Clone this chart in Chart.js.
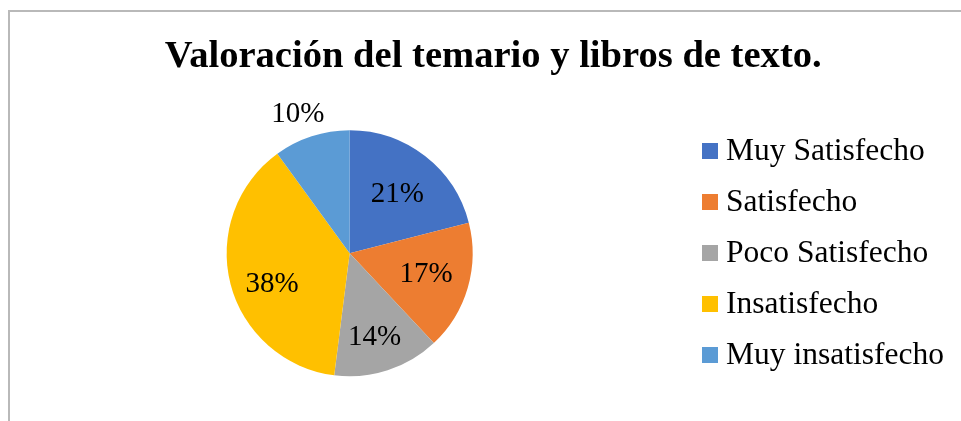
<!DOCTYPE html>
<html>
<head>
<meta charset="utf-8">
<script src="https://cdn.jsdelivr.net/npm/chart.js@4/dist/chart.umd.min.js"></script>
<style>
    html, body { margin: 0; padding: 0; background: #fff; overflow: hidden; }
    #frame {
        position: absolute; left: 8px; top: 10px; width: 1000px; height: 440px;
        border-left: 2px solid #b9b9b9; border-top: 2px solid #b9b9b9;
    }
    #chart { position: absolute; left: 0; top: 0; }
</style>
</head>
<body>
<div id="frame"></div>
<canvas id="chart" width="990" height="421"></canvas>
<script>
// Data
const TITLE = 'Valoración del temario y libros de texto.';
const categories = ['Muy Satisfecho', 'Satisfecho', 'Poco Satisfecho', 'Insatisfecho', 'Muy insatisfecho'];
const percentages = [21, 17, 14, 38, 10];
const colors = ['#4472C4', '#ED7D31', '#A5A5A5', '#FFC000', '#5B9BD5'];

const FONT = '"Liberation Serif", "Times New Roman", serif';

// Label placement (fraction of radius, angle nudge in degrees)
const labelRadius = [0.625, 0.644, 0.705, 0.676, 1.214];
const labelNudge = [0.5, -1.3, 1.3, -6.6, -2.3];

// Small square swatch used as the legend marker
function swatch(color) {
    const c = document.createElement('canvas');
    c.width = 16;
    c.height = 16;
    const g = c.getContext('2d');
    g.fillStyle = color;
    g.fillRect(0, 0, 16, 16);
    return c;
}

// Percentage labels on the slices
const sliceLabels = {
    id: 'sliceLabels',
    afterDatasetsDraw(chart) {
        const ctx = chart.ctx;
        const meta = chart.getDatasetMeta(0);
        ctx.save();
        ctx.font = '29px ' + FONT;
        ctx.fillStyle = '#000';
        ctx.textAlign = 'center';
        ctx.textBaseline = 'middle';
        meta.data.forEach((arc, i) => {
            const p = arc.getProps(['x', 'y', 'startAngle', 'endAngle', 'outerRadius'], true);
            const mid = (p.startAngle + p.endAngle) / 2 + labelNudge[i] * Math.PI / 180;
            const r = p.outerRadius * labelRadius[i];
            ctx.fillText(percentages[i] + '%', p.x + Math.cos(mid) * r, p.y + Math.sin(mid) * r + 1);
        });
        ctx.restore();
    }
};

function init() {
    const ctx = document.getElementById('chart').getContext('2d');
    new Chart(ctx, {
        type: 'pie',
        data: {
            labels: categories,
            datasets: [{
                data: percentages,
                backgroundColor: colors,
                borderWidth: 0
            }]
        },
        options: {
            responsive: false,
            animation: false,
            devicePixelRatio: 1,
            radius: 123,
            layout: {
                padding: { left: 9, right: 12.5, top: 0, bottom: 1 }
            },
            plugins: {
                title: {
                    display: true,
                    text: TITLE,
                    color: '#000',
                    font: { family: FONT, size: 38.6, weight: 'bold' },
                    padding: { top: 34, bottom: 6.3 }
                },
                legend: {
                    position: 'right',
                    fullSize: false,
                    labels: {
                        usePointStyle: true,
                        pointStyleWidth: 0.5,
                        padding: 19.5,
                        color: '#000',
                        font: { family: FONT, size: 31.5 },
                        generateLabels(chart) {
                            const items = Chart.overrides.pie.plugins.legend.labels.generateLabels(chart);
                            items.forEach(item => {
                                item.pointStyle = swatch(item.fillStyle);
                                item.text = item.text + '   ';
                            });
                            return items;
                        }
                    }
                },
                tooltip: { enabled: false }
            }
        },
        plugins: [sliceLabels]
    });
}

document.addEventListener('DOMContentLoaded', init);
</script>
</body>
</html>
